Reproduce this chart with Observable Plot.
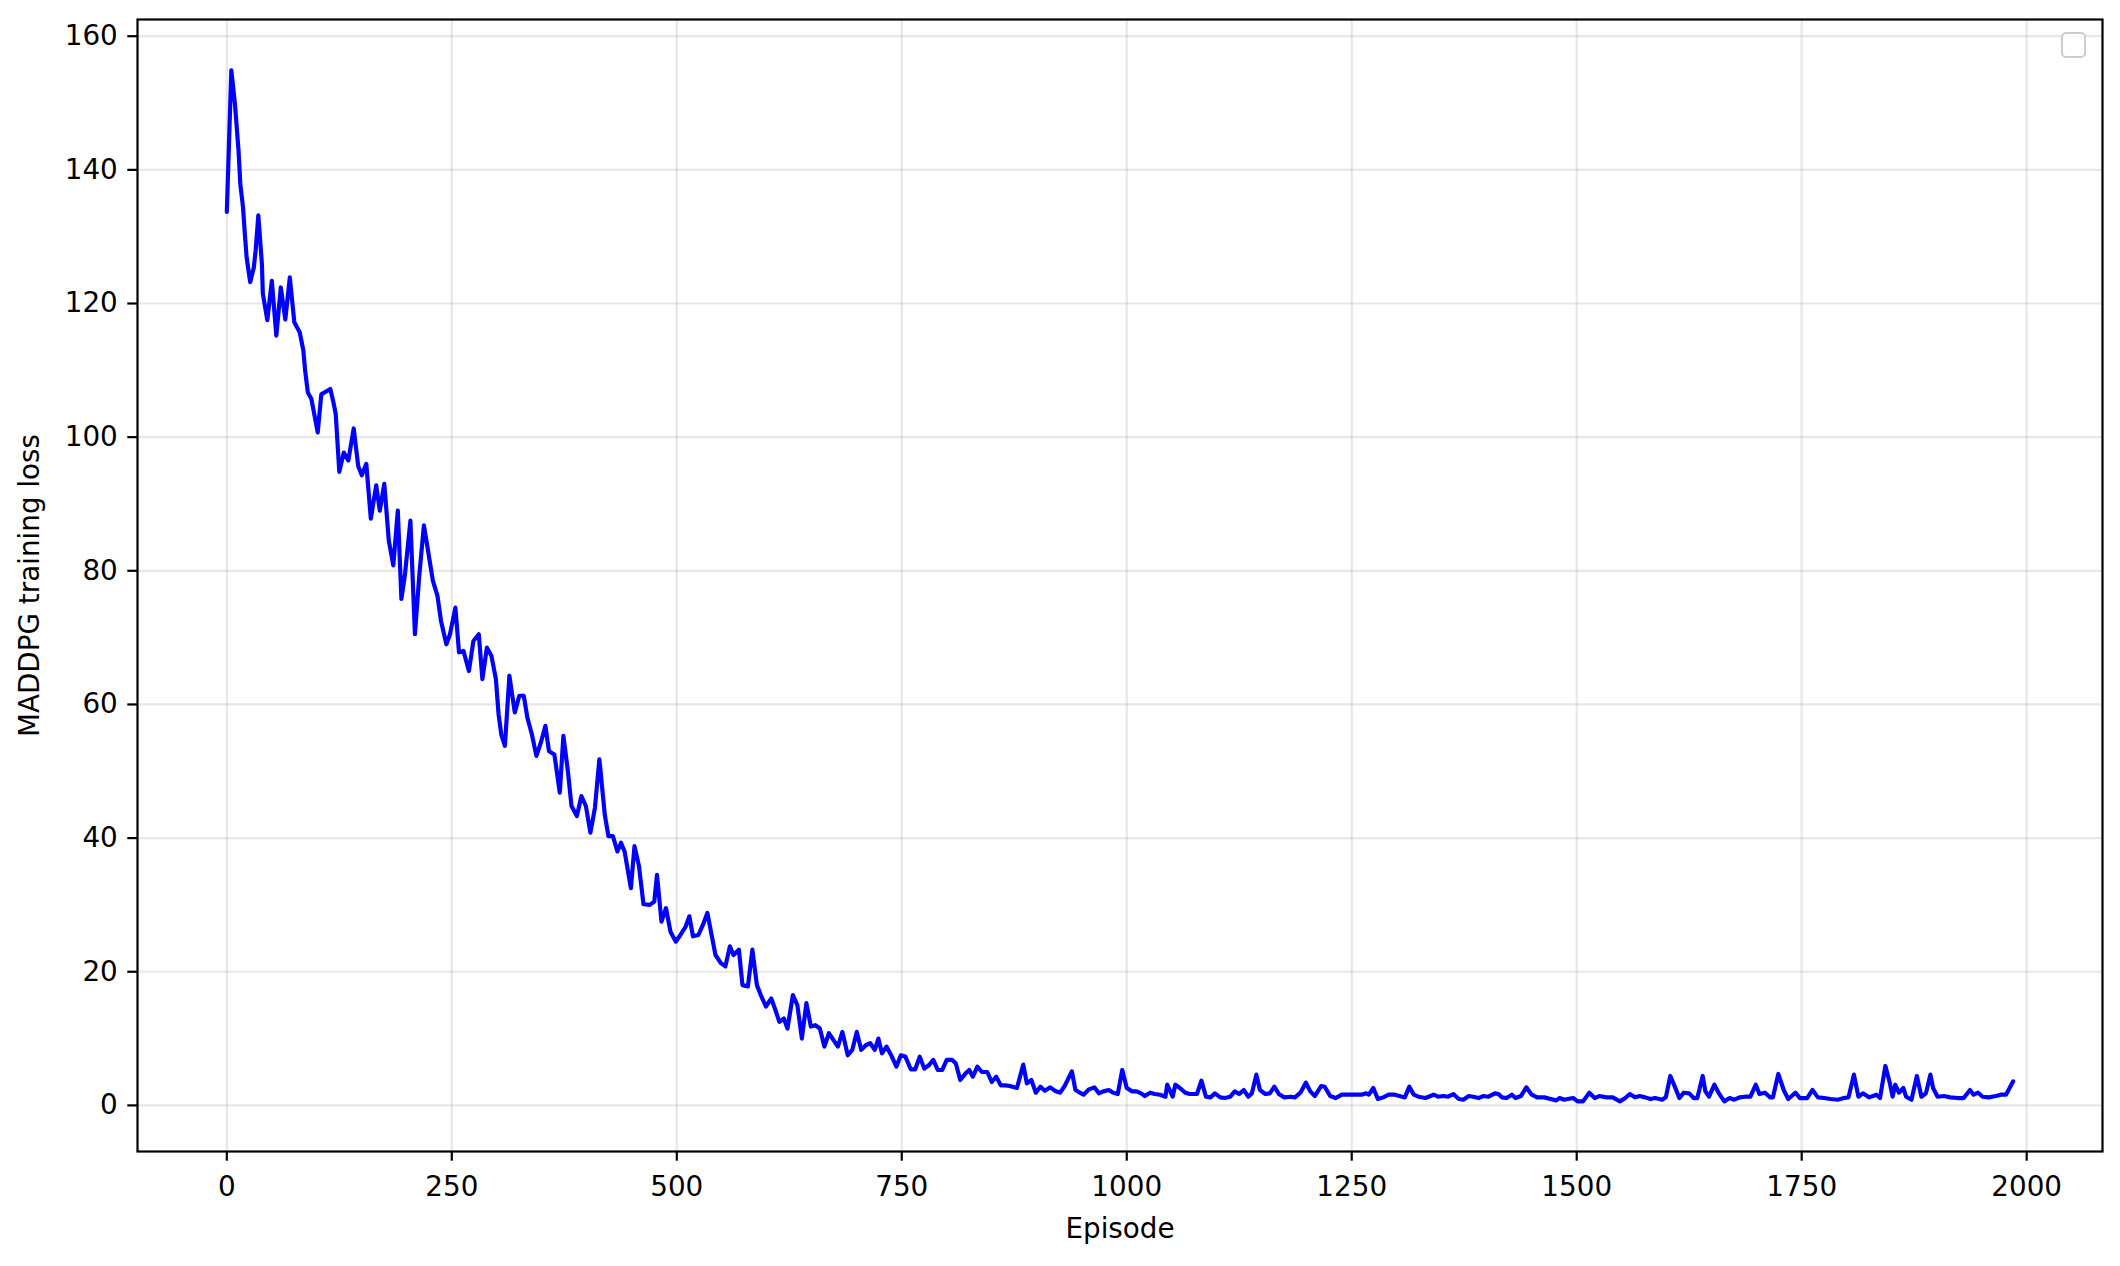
<!DOCTYPE html>
<html>
<head>
<meta charset="utf-8">
<script src="https://cdn.jsdelivr.net/npm/d3@7"></script>
<script src="https://cdn.jsdelivr.net/npm/@observablehq/plot@0.6"></script>
<style>
  html, body { margin: 0; padding: 0; background: #fff; }
  #wrap { position: relative; width: 2120px; height: 1266px; }
  #legend { position: absolute; left: 2061px; top: 32px; width: 21px; height: 22px;
            border: 2px solid #cccccc; border-radius: 5px; background: rgba(255,255,255,0.8); }
</style>
</head>
<body>
<div id="wrap"><div id="legend"></div></div>
<script>
const episodes = [
  0,5,9,13,15,18,20,22,26,30,32,35,39,40,45,50,55,60,65,70,75,81,85,87,90,94,101,105,115,118,121,125,130,135,141,146,150,155,160,166,170,175,180,185,190,194,
  198,204,209,214,219,223,229,234,238,244,248,254,258,263,269,274,280,284,289,294,299,302,305,309,314,320,325,330,334,339,344,349,354,358,364,370,374,379,383,389,394,399,404,409,414,420,424,429,434,
  438,442,449,453,458,463,470,475,478,483,488,493,499,504,510,514,518,524,529,534,539,543,549,554,559,563,569,573,579,584,589,594,599,605,609,614,619,623,629,634,639,644,649,654,659,664,669,674,679,684,690,695,700,705,710,715,720,724,728,733,739,744,749,754,760,765,770,775,780,785,790,795,800,806,810,815,821,825,829,834,839,845,850,855,860,
  865,870,878,885,889,894,899,904,909,915,920,926,931,939,943,948,952,958,964,969,974,980,985,990,995,1000,1006,1011,1016,1020,1026,1031,1037,1043,1045,1051,1054,1059,1065,1070,1078,1083,1088,1093,1098,1104,1109,1115,1120,1125,1130,1135,1139,1144,1148,1154,1159,1164,1169,1175,1182,1187,1193,1199,1204,1209,1216,1220,1226,1232,1239,1246,1253,1261,1266,1269,1274,1279,1285,1291,1298,1306,1309,1314,1319,1324,1332,1341,1346,1352,1357,1363,1369,1374,1380,1385,1391,1396,1402,1409,1413,1417,1422,1428,1432,1438,1444,1450,1456,1464,1471,1477,1481,1486,1490,1496,1501,1507,1514,1520,1525,1533,1540,1548,1554,1559,1565,1570,1576,1582,1587,1595,1599,1604,1609,1614,1619,1625,1630,1634,1640,1643,1647,1653,1658,1664,1670,1675,1681,1687,1693,1699,1703,1709,1715,1718,1724,1730,1735,1743,1748,1756,1762,1768,1775,1782,1790,1797,1802,1808,1813,1818,1825,1833,1837,1843,1848,1851,1854,1858,1863,1866,1872,1878,1883,1888,1893,1896,1901,1908,1915,1923,1930,1937,1941,1946,1951,1958,1966,1971,1977,1981,1985
];
const loss = [
  133.7,154.9,149.9,142.9,137.9,134.4,130.5,126.9,123.2,125.4,127.9,133.2,125.9,121.5,117.5,123.4,115.2,122.4,117.6,123.9,117.2,115.7,113,110,106.7,105.7,100.7,106.4,107.2,105.5,103.5,94.8,97.7,96.5,101.3,95.7,94.3,96,87.8,92.8,89,93,84.5,80.8,89,75.8,
  79.5,87.5,70.5,79.5,86.8,83.5,78.5,76.3,72.5,69,70.5,74.5,67.8,68,65,69.5,70.5,63.8,68.5,67.3,63.8,58.5,55.5,53.8,64.3,58.8,61.3,61.3,58,55.5,52.3,54.3,56.8,53,52.5,46.8,55.3,50,44.8,43.3,46.3,44.8,40.8,44.5,51.8,43.5,40.3,40.3,38,
  39.3,38,32.5,38.8,35.8,30.1,30,30.5,34.5,27.5,29.5,26,24.5,25.5,26.8,28.3,25.3,25.5,27,28.8,25.3,22.5,21.3,20.8,23.8,22.5,23.3,18,17.8,23.3,18,16.3,14.8,16,14.5,12.5,13,11.5,16.5,15,10,15.3,11.8,12,11.5,8.8,10.8,9.8,8.8,11,7.5,8.3,11,8.3,9,9.3,8.3,10,7.8,8.8,7.3,5.8,7.5,7.3,5.4,5.4,7.3,5.5,6,6.8,5.3,5.3,6.8,6.8,6.3,3.8,4.8,5.3,4.3,5.8,5,5,3.5,4.3,3,
  3,2.9,2.6,6.1,3.3,3.8,1.9,2.8,2.2,2.7,2.2,1.9,2.9,5.1,2.3,1.9,1.6,2.4,2.7,1.8,2.1,2.3,1.9,1.7,5.3,2.6,2.1,2.1,1.8,1.4,1.9,1.7,1.6,1.3,3.1,1.3,3.1,2.6,1.9,1.7,1.7,3.7,1.3,1.2,1.8,1.2,1.1,1.3,2.1,1.7,2.3,1.3,1.8,4.6,2.3,1.7,1.8,2.8,1.7,1.2,1.3,1.2,1.9,3.4,2.1,1.4,2.9,2.8,1.4,1.1,1.6,1.6,1.6,1.6,1.8,1.6,2.6,0.95,1.2,1.6,1.6,1.3,1.2,2.8,1.6,1.3,1.1,1.6,1.3,1.4,1.3,1.7,0.95,0.85,1.4,1.3,1.1,1.4,1.3,1.8,1.7,1.2,1.1,1.6,1.1,1.4,2.7,1.6,1.2,1.2,0.95,0.75,1.1,0.85,0.95,1.1,0.6,0.6,1.9,1.1,1.4,1.2,1.2,0.6,1.1,1.7,1.2,1.4,1.2,0.95,1.1,0.85,1.2,4.4,2.8,1.1,1.9,1.8,1.1,1.1,4.4,2.1,1.3,3.1,1.8,0.6,1.1,0.85,1.2,1.3,1.3,3.1,1.7,1.9,1.2,1.2,4.7,2.3,0.95,1.9,1.1,1.1,2.3,1.2,1.1,0.95,0.85,1.1,1.2,4.6,1.3,1.8,1.2,1.6,1.1,5.9,3.3,1.3,3.1,1.9,2.6,1.3,0.85,4.4,1.3,1.8,4.6,2.6,1.3,1.4,1.2,1.1,1.1,2.3,1.6,1.9,1.3,1.2,1.4,1.6,1.6,2.6,3.6
];
const xTicks = [0, 250, 500, 750, 1000, 1250, 1500, 1750, 2000];
const yTicks = [0, 20, 40, 60, 80, 100, 120, 140, 160];

const data = episodes.map((e, i) => ({episode: e, loss: loss[i]}));

const fontSize = 27.8;
const chart = Plot.plot({
  width: 2120,
  height: 1266,
  marginLeft: 137,
  marginRight: 18,
  marginTop: 19,
  marginBottom: 115,
  style: {fontFamily: "DejaVu Sans", fontSize: fontSize + "px", background: "white", color: "black"},
  x: {domain: [-99.25, 2084.25]},
  y: {domain: [-6.9, 162.5]},
  marks: [
    Plot.gridX(xTicks, {stroke: "#b0b0b0", strokeOpacity: 0.3, strokeWidth: 2.2}),
    Plot.gridY(yTicks, {stroke: "#b0b0b0", strokeOpacity: 0.3, strokeWidth: 2.2}),
    Plot.axisX(xTicks, {tickSize: 9.7, tickPadding: 15, strokeWidth: 2.2, fontSize: fontSize, tickFormat: d3.format("d"),
      label: "Episode", labelAnchor: "center", labelArrow: "none", labelOffset: 86}),
    Plot.axisY(yTicks, {tickSize: 9.7, tickPadding: 10, strokeWidth: 2.2, fontSize: fontSize, tickFormat: d3.format("d"),
      label: "MADDPG training loss", labelAnchor: "center", labelArrow: "none", labelOffset: 118}),
    Plot.line(data, {x: "episode", y: "loss", stroke: "#0000ff", strokeWidth: 4.17}),
    Plot.frame({stroke: "black", strokeWidth: 2.2})
  ]
});
document.getElementById("wrap").prepend(chart);
</script>
</body>
</html>
